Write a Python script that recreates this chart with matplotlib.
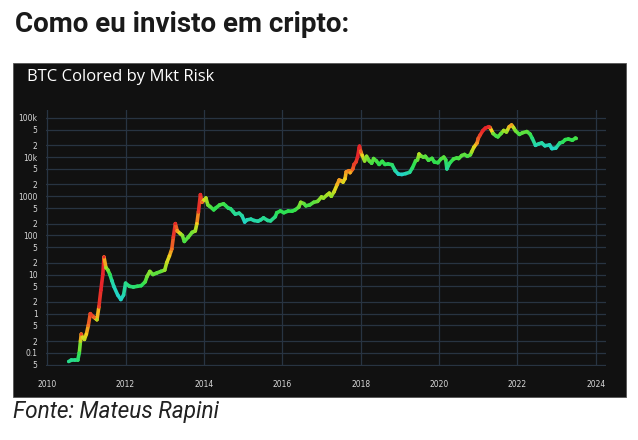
import numpy as np
import matplotlib.pyplot as plt
from matplotlib.collections import LineCollection
from matplotlib.colors import LinearSegmentedColormap
from matplotlib.patches import Rectangle

# BTC price (decimal year, USD) and the risk colour (0 = low, 1 = high)
years = [2010.55, 2010.62, 2010.7, 2010.78, 2010.82, 2010.85, 2010.87, 2010.9, 2010.95, 2011.0,
         2011.05, 2011.1, 2011.14, 2011.2, 2011.27, 2011.32, 2011.37, 2011.42, 2011.45, 2011.5,
         2011.55, 2011.6, 2011.65, 2011.7, 2011.8, 2011.88, 2011.95, 2012.0, 2012.1, 2012.2,
         2012.3, 2012.4, 2012.5, 2012.55, 2012.62, 2012.7, 2012.8, 2012.9, 2013.0, 2013.05,
         2013.12, 2013.18, 2013.22, 2013.27, 2013.32, 2013.4, 2013.45, 2013.5, 2013.6, 2013.7,
         2013.78, 2013.82, 2013.86, 2013.91, 2013.95, 2014.0, 2014.05, 2014.1, 2014.15, 2014.25,
         2014.3, 2014.4, 2014.5, 2014.55, 2014.62, 2014.68, 2014.75, 2014.8, 2014.9, 2014.97,
         2015.04, 2015.1, 2015.2, 2015.28, 2015.38, 2015.45, 2015.52, 2015.63, 2015.7, 2015.82,
         2015.86, 2015.95, 2016.04, 2016.15, 2016.25, 2016.33, 2016.42, 2016.47, 2016.55, 2016.6,
         2016.7, 2016.8, 2016.9, 2017.0, 2017.05, 2017.15, 2017.2, 2017.25, 2017.32, 2017.4,
         2017.45, 2017.5, 2017.55, 2017.6, 2017.63, 2017.7, 2017.73, 2017.8, 2017.83, 2017.88,
         2017.92, 2017.96, 2017.97, 2018.0, 2018.04, 2018.1, 2018.15, 2018.22, 2018.28, 2018.33,
         2018.4, 2018.47, 2018.55, 2018.62, 2018.7, 2018.8, 2018.88, 2018.96, 2019.05, 2019.15,
         2019.25, 2019.32, 2019.4, 2019.45, 2019.49, 2019.55, 2019.6, 2019.65, 2019.73, 2019.82,
         2019.88, 2019.97, 2020.05, 2020.12, 2020.17, 2020.2, 2020.27, 2020.37, 2020.45, 2020.5,
         2020.58, 2020.65, 2020.72, 2020.8, 2020.83, 2020.89, 2020.97, 2021.0, 2021.05, 2021.12,
         2021.18, 2021.27, 2021.3, 2021.38, 2021.45, 2021.5, 2021.58, 2021.65, 2021.72, 2021.79,
         2021.85, 2021.9, 2021.95, 2022.05, 2022.13, 2022.24, 2022.32, 2022.38, 2022.46, 2022.55,
         2022.62, 2022.7, 2022.82, 2022.88, 2022.98, 2023.08, 2023.15, 2023.22, 2023.3, 2023.4,
         2023.48, 2023.5]
price = [0.06, 0.065, 0.065, 0.065, 0.1, 0.2, 0.3, 0.25, 0.22, 0.3,
         0.5, 1.0, 0.9, 0.8, 0.7, 1.5, 4, 10, 28, 15,
         13, 10, 7, 5, 3, 2.3, 3, 6, 5, 4.8,
         5, 5.2, 6.5, 9, 12, 10, 11, 12, 13, 20,
         30, 45, 90, 200, 130, 110, 100, 70, 90, 120,
         130, 200, 400, 1100, 700, 800, 900, 600, 550, 450,
         500, 600, 640, 580, 500, 480, 400, 350, 370, 320,
         220, 250, 260, 240, 230, 250, 280, 240, 235, 300,
         380, 420, 380, 420, 415, 450, 530, 700, 650, 570,
         600, 700, 740, 960, 900, 1100, 1200, 1000, 1300, 2000,
         2600, 2500, 2300, 2800, 4200, 4500, 4000, 5000, 6500, 7500,
         10000, 17000, 19000, 14000, 11000, 8000, 10500, 8000, 7000, 9200,
         8000, 6500, 7800, 6500, 6700, 6400, 4500, 3700, 3600, 3800,
         4100, 5300, 8000, 8500, 12000, 10500, 10000, 10500, 8300, 9300,
         7500, 7200, 9000, 10000, 8500, 5000, 7000, 9000, 9500, 9200,
         11000, 11700, 10500, 11500, 13500, 18000, 23000, 30000, 37000, 48000,
         55000, 60000, 57000, 40000, 35000, 33000, 40000, 48000, 44000, 60000,
         66000, 57000, 47000, 38000, 42000, 45000, 39000, 30000, 20000, 22000,
         23000, 19500, 20500, 16500, 17000, 23000, 24000, 28000, 29000, 27000,
         30500, 30000]
risk = [0.15, 0.15, 0.15, 0.2, 0.3, 0.6, 0.95, 0.65, 0.6, 0.7,
        0.85, 0.95, 0.95, 0.9, 0.55, 0.95, 1.0, 1.0, 1.0, 0.55,
        0.45, 0.3, 0.1, 0.05, 0.0, 0.0, 0.05, 0.15, 0.2, 0.2,
        0.25, 0.25, 0.35, 0.45, 0.5, 0.4, 0.4, 0.4, 0.5, 0.6,
        0.7, 0.85, 0.95, 1.0, 0.8, 0.6, 0.5, 0.35, 0.4, 0.45,
        0.5, 0.7, 0.95, 1.0, 0.9, 0.65, 0.6, 0.45, 0.4, 0.3,
        0.3, 0.35, 0.35, 0.3, 0.25, 0.2, 0.15, 0.12, 0.12, 0.1,
        0.0, 0.05, 0.08, 0.08, 0.08, 0.1, 0.15, 0.12, 0.12, 0.2,
        0.28, 0.3, 0.28, 0.3, 0.3, 0.32, 0.4, 0.5, 0.42, 0.35,
        0.35, 0.4, 0.42, 0.55, 0.5, 0.55, 0.6, 0.5, 0.6, 0.75,
        0.8, 0.75, 0.65, 0.7, 0.8, 0.85, 0.75, 0.9, 0.95, 0.95,
        1.0, 1.0, 1.0, 0.9, 0.7, 0.5, 0.5, 0.4, 0.35, 0.4,
        0.35, 0.3, 0.32, 0.28, 0.28, 0.25, 0.1, 0.0, 0.0, 0.05,
        0.1, 0.25, 0.35, 0.4, 0.6, 0.45, 0.4, 0.4, 0.35, 0.35,
        0.3, 0.3, 0.35, 0.4, 0.35, 0.1, 0.25, 0.35, 0.35, 0.35,
        0.4, 0.4, 0.35, 0.4, 0.55, 0.65, 0.8, 0.9, 0.95, 1.0,
        1.0, 1.0, 0.95, 0.45, 0.35, 0.35, 0.4, 0.55, 0.5, 0.75,
        0.8, 0.6, 0.45, 0.35, 0.4, 0.4, 0.35, 0.2, 0.05, 0.08,
        0.1, 0.05, 0.05, 0.0, 0.02, 0.2, 0.25, 0.3, 0.32, 0.3,
        0.35, 0.35]

year_ticks = [2010, 2012, 2014, 2016, 2018, 2020, 2022, 2024]
price_ticks = [1e5, 5e4, 2e4, 1e4, 5e3, 2e3, 1e3, 500, 200, 100, 50, 20, 10, 5, 2, 1, 0.5, 0.2, 0.1, 0.05]
price_labels = ["100k", "5", "2", "10k", "5", "2", "1000", "5", "2", "100", "5", "2", "10", "5", "2", "1", "5", "2", "0.1", "5"]

risk_cmap = LinearSegmentedColormap.from_list(
    "risk", [(0.0, "#22d4c8"), (0.3, "#2ee04e"), (0.55, "#a6e024"),
             (0.7, "#f2d41e"), (0.85, "#f27a22"), (1.0, "#e6252a")])

fig = plt.figure(figsize=(6.38, 4.40), dpi=100)
fig.patch.set_facecolor("white")

fig.text(15 / 638, 1 - 24 / 440, "Como eu invisto em cripto:", fontsize=20, fontweight="bold",
         family="Roboto", color="#1a1a1a", va="center", ha="left")
fig.text(13 / 638, 1 - 411 / 440, "Fonte: Mateus Rapini", fontsize=16.3, fontstyle="italic",
         family="Roboto", color="#222222", va="center", ha="left")

panel = Rectangle((13 / 638, 1 - 397 / 440), 613 / 638, 334 / 440, transform=fig.transFigure,
                  facecolor="#111111", edgecolor="#555555", linewidth=0.6, zorder=-1)
fig.patches.append(panel)
fig.text(27 / 638, 1 - 77 / 440, "BTC Colored by Mkt Risk", fontsize=12, family="Open Sans",
         color="white", va="center", ha="left")

ax = fig.add_axes([46 / 638, 1 - 366 / 440, 560 / 638, 256 / 440])
ax.set_zorder(1)
ax.set_facecolor("#111111")
ax.set_yscale("log")
ax.set_xlim(2009.97, 2024.26)
ax.set_ylim(0.046, 160000)

x = np.array(years)
y = np.array(price)
r = np.array(risk)
pts = np.column_stack([x, y]).reshape(-1, 1, 2)
segs = np.concatenate([pts[:-1], pts[1:]], axis=1)
lc = LineCollection(segs, cmap=risk_cmap, linewidths=2.6, capstyle="round", zorder=3)
lc.set_array((r[:-1] + r[1:]) / 2)
lc.set_clim(0, 1)
ax.add_collection(lc)
ax.scatter(x, y, c=r, cmap=risk_cmap, vmin=0, vmax=1, s=5, linewidths=0, zorder=4)

ax.set_xticks(year_ticks)
ax.set_xticklabels([str(t) for t in year_ticks])
ax.set_yticks(price_ticks)
ax.set_yticklabels(price_labels)
ax.minorticks_off()
ax.tick_params(length=0, labelsize=5.5, colors="#d8d8d8", pad=6)
ax.tick_params(axis="x", pad=10)
ax.grid(True, color="#283442", linewidth=0.9)
ax.set_axisbelow(True)
for s in ax.spines.values():
    s.set_visible(False)

fig.savefig("out.png", dpi=100)
